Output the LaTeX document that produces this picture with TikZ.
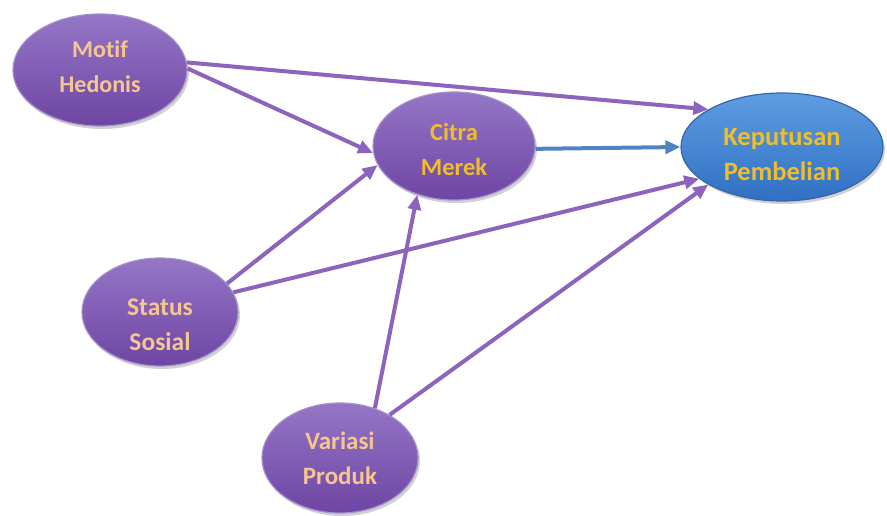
\documentclass[tikz,border=0pt]{standalone}
\usepackage{fontspec}
\setmainfont{Carlito}[Ligatures=NoCommon]
\usetikzlibrary{shapes.geometric,arrows.meta,shadows}
\definecolor{purpTop}{HTML}{9576C6}
\definecolor{purpBot}{HTML}{6E45A3}
\definecolor{purpEdge}{HTML}{A48ECB}
\definecolor{blueTop}{HTML}{5E9DE2}
\definecolor{blueBot}{HTML}{3170C2}
\definecolor{blueEdge}{HTML}{3466A8}
\definecolor{peach}{HTML}{F6C690}
\definecolor{gold}{HTML}{F0BE28}
\definecolor{arrowPurp}{HTML}{8C63BD}
\definecolor{arrowBlue}{HTML}{4F84C4}
\tikzset{
  oval/.style={ellipse, inner sep=0pt, line width=1.2pt,
    drop shadow={shadow xshift=2pt, shadow yshift=-3pt, opacity=0.18, fill=black}},
  purpoval/.style={oval, draw=purpEdge, top color=purpTop, bottom color=purpBot},
  blueoval/.style={oval, draw=blueEdge, top color=blueTop, bottom color=blueBot},
  lbl/.style={align=center, inner sep=0pt},
  peachtxt/.style={lbl, text=peach},
  goldtxt/.style={lbl, text=gold},
  link/.style={draw=arrowPurp, line width=4pt, -{Triangle[length=15pt,width=13pt]}},
  bluelink/.style={draw=arrowBlue, line width=4pt, -{Triangle[length=15pt,width=13pt]}}
}
\newcommand{\fsz}[1]{\bfseries\fontsize{#1}{35}\selectfont}
\begin{document}
\begin{tikzpicture}[x=1pt, y=-1pt]
\useasboundingbox (0,0) rectangle (887,516);
\node[purpoval, minimum width=174pt, minimum height=112pt] (motif) at (100,70) {};
\node[purpoval, minimum width=162pt, minimum height=108pt] (citra) at (454,146) {};
\node[blueoval, minimum width=202pt, minimum height=108pt] (kep) at (782,147) {};
\node[purpoval, minimum width=156pt, minimum height=108pt] (status) at (160,312) {};
\node[purpoval, minimum width=156pt, minimum height=110pt] (variasi) at (340,458) {};

\node[peachtxt, font=\fsz{24}] (motifT) at ([yshift=3pt]motif.center) {Motif\\Hedonis};
\node[goldtxt, font=\fsz{24.5}] (citraT) at ([yshift=-3pt]citra.center) {Citra\\Merek};
\node[goldtxt, font=\fsz{26.5}] (kepT) at ([yshift=-8pt]kep.center) {Keputusan\\Pembelian};
\node[peachtxt, font=\fsz{25.5}] (statusT) at ([yshift=-13pt]status.center) {Status\\Sosial};
\node[peachtxt, font=\fsz{25}] (variasiT) at ([yshift=0pt]variasi.center) {Variasi\\Produk};

\draw[link] (motif.5) -- (kep.153);
\draw[link] (motif.1) -- (citra.185);
\draw[link] (status.23) -- (citra.194);
\draw[link] (status.15) -- (kep.201);
\draw[link] (variasi.55) -- (citra.233);
\draw[link] (variasi.41) -- (kep.207);
\draw[bluelink] (citra.-2) -- (kep.180);
\end{tikzpicture}
\end{document}
